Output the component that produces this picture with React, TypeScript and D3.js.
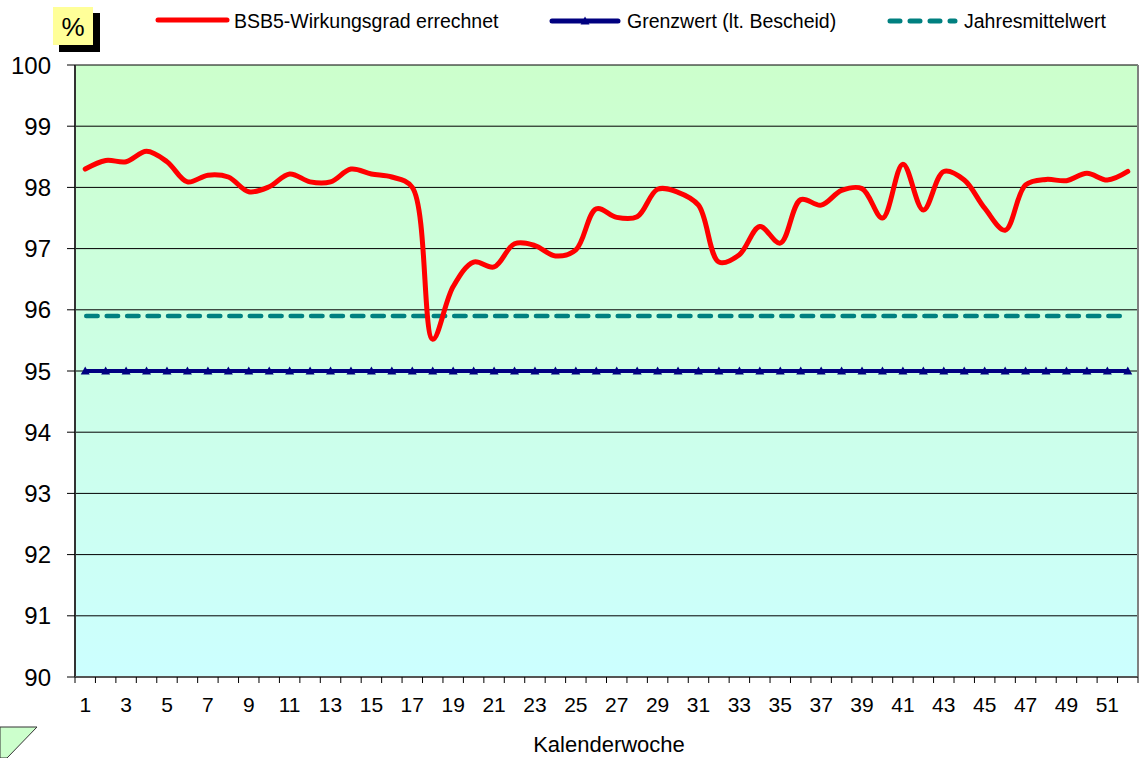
import * as d3 from 'd3';

const weeks = d3.range(1, 53);
const wirkungsgrad = [
  98.3, 98.44, 98.42, 98.59, 98.42, 98.09, 98.2, 98.17, 97.93, 98.01,
  98.22, 98.09, 98.09, 98.3, 98.22, 98.17, 98.0, 95.52, 96.38, 96.78,
  96.7, 97.08, 97.05, 96.88, 96.98, 97.65, 97.51, 97.52, 97.97, 97.92,
  97.71, 96.78, 96.9, 97.36, 97.09, 97.8, 97.71, 97.95, 97.98, 97.5,
  98.38, 97.63, 98.26, 98.12, 97.66, 97.3, 98.04, 98.13, 98.11, 98.23,
  98.12, 98.26,
];
const grenzwert = 95;
const jahresmittel = 95.9;
const yTicks = d3.range(90, 101);
const xLabels = weeks.filter((w) => w % 2 === 1);

const W = 1142;
const H = 758;
const plot = { left: 75, right: 1138, top: 65, bottom: 677 };
const font = 'Liberation Sans, Arial, sans-serif';

export default function App() {
  const x = d3.scaleBand<number>().domain(weeks).range([plot.left, plot.right]);
  const y = d3.scaleLinear().domain([90, 100]).range([plot.bottom, plot.top]);
  const bw = x.bandwidth();
  const cx = (w: number) => (x(w) ?? 0) + bw / 2;

  const line = d3
    .line<number>()
    .curve(d3.curveCatmullRom.alpha(0.5))
    .x((_, i) => cx(weeks[i]))
    .y((d) => y(d));

  const tri = (px: number, py: number) =>
    `M${px},${py - 4.5} L${px + 4.5},${py + 3.5} L${px - 4.5},${py + 3.5} Z`;

  return (
    <svg
      width={W}
      height={H}
      style={{ position: 'absolute', left: 0, top: 0, fontFamily: font }}
    >
      <defs>
        <linearGradient id="bg" x1="0" y1="0" x2="0" y2="1">
          <stop offset="0" stopColor="#CCFFCC" />
          <stop offset="1" stopColor="#CCFFFF" />
        </linearGradient>
      </defs>
      <rect x={0} y={0} width={W} height={H} fill="#fff" />

      {/* plot area */}
      <rect
        x={plot.left}
        y={plot.top}
        width={plot.right - plot.left}
        height={plot.bottom - plot.top}
        fill="url(#bg)"
      />
      {yTicks.map((t) => (
        <line
          key={t}
          x1={plot.left}
          x2={plot.right}
          y1={y(t)}
          y2={y(t)}
          stroke="#000"
          strokeWidth={1}
        />
      ))}
      <line x1={plot.right} x2={plot.right} y1={plot.top} y2={plot.bottom} stroke="#808080" strokeWidth={2} />
      <line x1={plot.left} x2={plot.left} y1={plot.top} y2={plot.bottom} stroke="#333" strokeWidth={2} />
      <line x1={plot.left} x2={plot.right} y1={plot.bottom} y2={plot.bottom} stroke="#555" strokeWidth={2} />

      {/* y axis */}
      {yTicks.map((t) => (
        <g key={t}>
          <line x1={plot.left - 8} x2={plot.left} y1={y(t)} y2={y(t)} stroke="#000" />
          <text x={51} y={y(t) + 8.5} textAnchor="end" fontSize={24} fill="#000">
            {t}
          </text>
        </g>
      ))}

      {/* x axis */}
      {weeks.concat([53]).map((w) => {
        const px = w === 53 ? plot.right : x(w) ?? 0;
        return <line key={w} x1={px} x2={px} y1={plot.bottom} y2={plot.bottom + 6} stroke="#000" />;
      })}
      {xLabels.map((w) => (
        <text key={w} x={cx(w)} y={712} textAnchor="middle" fontSize={21} fill="#000">
          {w}
        </text>
      ))}
      <text x={609} y={752} textAnchor="middle" fontSize={22} fill="#000">
        Kalenderwoche
      </text>

      {/* Jahresmittelwert */}
      <line
        x1={cx(1) + 1}
        x2={cx(52) - 5}
        y1={y(jahresmittel)}
        y2={y(jahresmittel)}
        stroke="#008080"
        strokeWidth={4.5}
        strokeDasharray={`${bw - 9},9`}
        strokeLinecap="round"
      />

      {/* Grenzwert */}
      <line x1={cx(1)} x2={cx(52)} y1={y(grenzwert)} y2={y(grenzwert)} stroke="#000080" strokeWidth={4} />
      {weeks.map((w) => (
        <path key={w} d={tri(cx(w), y(grenzwert))} fill="#000080" />
      ))}

      {/* BSB5 */}
      <path
        d={line(wirkungsgrad) ?? ''}
        fill="none"
        stroke="#FF0000"
        strokeWidth={5}
        strokeLinejoin="round"
        strokeLinecap="round"
      />

      {/* % box */}
      <rect x={59} y={13} width={41} height={39} fill="#000" />
      <rect x={53} y={7} width={40} height={38} fill="#FFFF99" />
      <text x={73} y={36} textAnchor="middle" fontSize={26} fill="#000">
        %
      </text>

      {/* legend */}
      <line x1={158} x2={227} y1={20} y2={20} stroke="#FF0000" strokeWidth={5} strokeLinecap="round" />
      <text x={234} y={28} fontSize={19.5} fill="#000">
        BSB5-Wirkungsgrad errechnet
      </text>
      <line x1={552} x2={618} y1={21} y2={21} stroke="#000080" strokeWidth={5} strokeLinecap="round" />
      <path d={tri(585, 21)} fill="#000080" />
      <text x={627} y={28} fontSize={19.5} fill="#000">
        Grenzwert (lt. Bescheid)
      </text>
      <line
        x1={890}
        x2={955}
        y1={21}
        y2={21}
        stroke="#008080"
        strokeWidth={5}
        strokeDasharray="10,10"
        strokeLinecap="round"
      />
      <text x={964} y={28} fontSize={19.5} fill="#000">
        Jahresmittelwert
      </text>

      {/* corner shape */}
      <path d="M0,727 L37,727 L7,758 L0,758 Z" fill="#CCFFCC" stroke="#333" strokeWidth={1} />
    </svg>
  );
}
